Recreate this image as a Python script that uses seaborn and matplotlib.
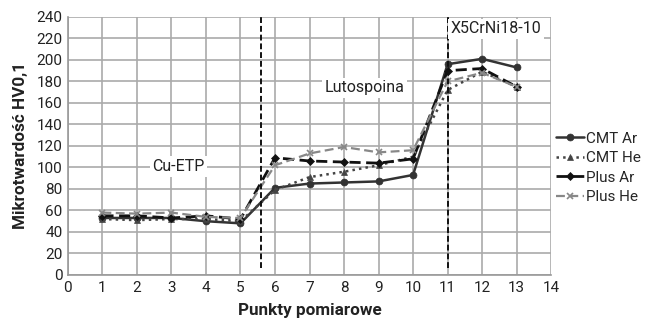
import matplotlib
matplotlib.use("Agg")
import matplotlib.pyplot as plt
import seaborn as sns
import pandas as pd

points = [1, 2, 3, 4, 5, 6, 7, 8, 9, 10, 11, 12, 13]
cmt_ar = [53, 53, 53, 50, 48, 81, 85, 86, 87, 93, 196, 201, 193]
cmt_he = [52, 51, 52, 52, 50, 79, 91, 96, 102, 110, 172, 189, 175]
plus_ar = [55, 55, 53, 55, 52, 109, 106, 105, 104, 108, 190, 192, 175]
plus_he = [58, 57, 58, 54, 53, 102, 113, 119, 114, 116, 180, 188, 175]
series_names = ["CMT Ar", "CMT He", "Plus Ar", "Plus He"]
zone_bounds = [5.6, 11]
zone_labels = ["Cu-ETP", "Lutospoina", "X5CrNi18-10"]
zone_label_pos = [(3.2, 101), (8.6, 174), (12.4, 229)]

sns.set_theme(style="white")
plt.rcParams['font.family'] = ['Roboto', 'DejaVu Sans']

df = pd.DataFrame({
    "x": points * 4,
    "y": cmt_ar + cmt_he + plus_ar + plus_he,
    "s": sum([[n] * len(points) for n in series_names], []),
})

fig = plt.figure(figsize=(6.53, 3.25), dpi=100)
ax = fig.add_axes([0.104, 0.154, 0.740, 0.794])

styles = {
    "CMT Ar": dict(color="#333333", ls="-", marker="o", ms=5, lw=1.8),
    "CMT He": dict(color="#444444", ls=":", marker="^", ms=5, lw=1.8),
    "Plus Ar": dict(color="#111111", ls=(0, (4, 2)), marker="D", ms=4, lw=2.0),
    "Plus He": dict(color="#888888", ls=(0, (4, 2)), marker="x", ms=5, lw=1.6),
}
for name in series_names:
    st = styles[name]
    sub = df[df["s"] == name]
    sns.lineplot(data=sub, x="x", y="y", ax=ax, color=st["color"], linestyle=st["ls"],
                 marker=st["marker"], markersize=st["ms"], linewidth=st["lw"],
                 markeredgecolor=st["color"], markeredgewidth=1.2 if st["marker"] == "x" else 0.5,
                 label=name)

for xb in zone_bounds:
    ax.plot([xb, xb], [6, 240], color="#111111", ls=(0, (3, 1.5)), lw=1.4, zorder=3)

for txt, (xx, yy) in zip(zone_labels, zone_label_pos):
    ax.text(xx, yy, txt, ha="center", va="center", fontsize=11.5, color="#222222",
            bbox=dict(facecolor="white", edgecolor="none", pad=2), zorder=4)

ax.set_xlim(0, 14)
ax.set_ylim(0, 240)
ax.set_xticks(range(0, 15))
ax.set_yticks(range(0, 241, 20))
ax.grid(True, color="#aaaaaa", lw=1.2)
ax.set_axisbelow(True)
for side in ["top", "right"]:
    ax.spines[side].set_visible(False)
for side in ["left", "bottom"]:
    ax.spines[side].set_color("#999999")
    ax.spines[side].set_linewidth(1.2)
ax.tick_params(axis="both", labelsize=11, colors="#222222", length=0, pad=4)
ax.set_xlabel("Punkty pomiarowe", fontsize=12.3, fontweight="bold", color="#222222", labelpad=6)
ax.set_ylabel("Mikrotwardość HV0,1", fontsize=12.3, fontweight="bold", color="#222222", labelpad=6)

leg = ax.legend(loc="center left", bbox_to_anchor=(1.0, 0.415), frameon=False, fontsize=11,
                handlelength=1.85, handletextpad=0.1, labelspacing=0.35, borderaxespad=0.1,
                borderpad=0.2)

fig.savefig("out.png", dpi=100)
